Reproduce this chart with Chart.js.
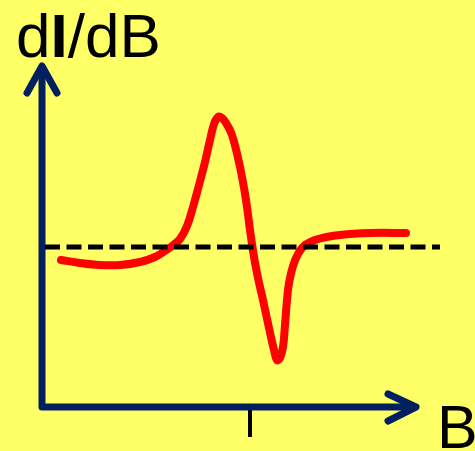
<!DOCTYPE html>
<html>
<head>
<meta charset="utf-8">
<script src="https://cdn.jsdelivr.net/npm/chart.js@4.4.0/dist/chart.umd.min.js"></script>
<style>
  body { margin: 0; background: #ffff66; }
  #wrap { width: 475px; height: 451px; }
</style>
</head>
<body>
<div id="wrap"><canvas id="esrChart" width="475" height="451"></canvas></div>
<script>
// field B (arbitrary units) and derivative signal dI/dB
const fieldB = [1.9, 3.8, 5.8, 7.8, 9.8, 11.3, 12.3, 13.0, 13.8, 14.5, 15.1, 15.7, 16.3, 16.8, 17.2, 17.6, 18.0, 18.4, 19.0, 19.8, 20.4, 20.8, 21.2, 21.6, 22.1, 22.7, 23.2, 23.5, 23.8, 24.1, 24.3, 24.5, 24.7, 25.1, 25.6, 26.3, 27.6, 29.8, 32.8, 36.4];
const signal = [14.7, 14.4, 14.2, 14.2, 14.5, 15.0, 15.6, 16.1, 16.8, 18.1, 20.0, 22.2, 24.5, 26.7, 28.3, 29.0, 28.9, 28.4, 27.2, 24.0, 20.7, 17.7, 15.0, 12.9, 10.7, 7.9, 5.7, 4.7, 4.9, 6.0, 8.2, 10.7, 12.4, 14.1, 15.3, 16.2, 16.8, 17.2, 17.4, 17.4];

const baseline = 16.0;
const baselineRange = [0.3, 39.8];
const resonanceB = 20.8;
const tickDepth = -3.0;

// axis ends and arrow heads
const axisTop = 33.9;
const axisRight = 37.2;
const yArrow = [[-1.5, 31.4], [0, 34.1], [1.5, 31.4]];
const xArrow = [[34.6, 1.3], [37.4, 0], [34.6, -1.4]];

const yLabel = ["d", "I", "/dB"];
const xLabel = "B";

const curve = fieldB.map((b, i) => ({ x: b, y: signal[i] }));
const toPts = (arr) => arr.map((p) => ({ x: p[0], y: p[1] }));

const navy = "#002060";
const fontFamily = '"Liberation Sans", Arial, sans-serif';

const backgroundPlugin = {
  id: "background",
  beforeDraw(chart) {
    const c = chart.ctx;
    c.save();
    c.fillStyle = "#ffff66";
    c.fillRect(0, 0, chart.width, chart.height);
    c.restore();
  },
};

const labelsPlugin = {
  id: "labels",
  afterDraw(chart) {
    const c = chart.ctx;
    c.save();
    c.fillStyle = "#000";
    c.textBaseline = "alphabetic";

    // y label, the "I" is heavier than the rest
    let x = 16;
    yLabel.forEach((part, i) => {
      c.font = (i === 1 ? "bold " : "") + "62px " + fontFamily;
      c.fillText(part, x, 57);
      x += c.measureText(part).width;
    });

    c.font = "61px " + fontFamily;
    c.fillText(xLabel, 437, 448);
    c.restore();
  },
};

new Chart(document.getElementById("esrChart"), {
  type: "scatter",
  data: {
    datasets: [
      {
        data: [{ x: baselineRange[0], y: baseline }, { x: baselineRange[1], y: baseline }],
        showLine: true,
        borderColor: "#000",
        borderWidth: 5,
        borderDash: [15, 6.5],
        order: 1,
      },
      {
        data: curve,
        showLine: true,
        borderColor: "#ff0000",
        borderWidth: 8,
        borderCapStyle: "round",
        borderJoinStyle: "round",
        tension: 0.4,
        order: 2,
      },
      {
        data: [{ x: 0, y: axisTop }, { x: 0, y: 0 }, { x: axisRight, y: 0 }],
        showLine: true,
        borderColor: navy,
        borderWidth: 7,
        borderCapStyle: "round",
        borderJoinStyle: "round",
        order: 3,
      },
      {
        data: toPts(yArrow),
        showLine: true,
        borderColor: navy,
        borderWidth: 7,
        borderCapStyle: "round",
        borderJoinStyle: "round",
        order: 3,
      },
      {
        data: toPts(xArrow),
        showLine: true,
        borderColor: navy,
        borderWidth: 7,
        borderCapStyle: "round",
        borderJoinStyle: "round",
        order: 3,
      },
      {
        data: [{ x: resonanceB, y: 0 }, { x: resonanceB, y: tickDepth }],
        showLine: true,
        borderColor: "#000",
        borderWidth: 4,
        order: 4,
      },
    ],
  },
  options: {
    responsive: false,
    maintainAspectRatio: false,
    animation: false,
    layout: { padding: 0 },
    elements: { point: { radius: 0, hoverRadius: 0 }, line: { tension: 0 } },
    datasets: { scatter: { clip: false } },
    plugins: { legend: { display: false }, tooltip: { enabled: false } },
    scales: {
      x: { type: "linear", display: false, min: -4.2, max: 43.3 },
      y: { type: "linear", display: false, min: -4.4, max: 40.7 },
    },
  },
  plugins: [backgroundPlugin, labelsPlugin],
});
</script>
</body>
</html>
